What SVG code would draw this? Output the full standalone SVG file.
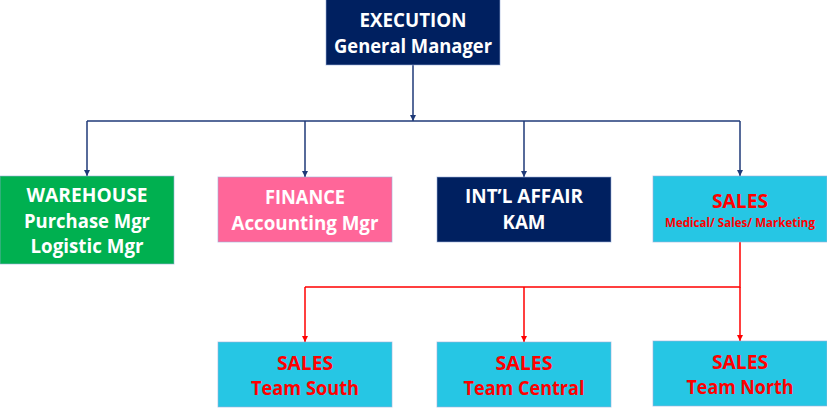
<svg xmlns="http://www.w3.org/2000/svg" width="827" height="414" viewBox="0 0 827 414">
<style>
.box{stroke:#9DB3DA;stroke-width:1;stroke-opacity:0.6}
.navy{fill:#002060}
.green{fill:#00B050}
.pink{fill:#FF6699}
.cyan{fill:#26C6E4}
text{font-family:"Open Sans","Liberation Sans",sans-serif;font-weight:bold;text-anchor:middle}
.w{fill:#FFFFFF;font-size:19px}
.r{fill:#FF0000;font-size:19px}
.rs{fill:#FF0000;font-size:12px}
.cb{fill:none;stroke:#1F3A78;stroke-width:1.5}
.cr{fill:none;stroke:#FF0000;stroke-width:1.5}
</style>
<defs>
<marker id="ab" viewBox="0 0 6 6" refX="6" refY="3" markerWidth="4" markerHeight="4" orient="auto" markerUnits="strokeWidth">
<path d="M0,0 L6,3 L0,6 Z" fill="#1F3A78"/>
</marker>
<marker id="ar" viewBox="0 0 6 6" refX="6" refY="3" markerWidth="4" markerHeight="4" orient="auto" markerUnits="strokeWidth">
<path d="M0,0 L6,3 L0,6 Z" fill="#FF0000"/>
</marker>
</defs>
<rect width="827" height="414" fill="#FFFFFF"/>
<g id="connectors">
<path class="cb" d="M413,65 V121" marker-end="url(#ab)"/>
<path class="cb" d="M87,121 H740"/>
<path class="cb" d="M87,121 V176" marker-end="url(#ab)"/>
<path class="cb" d="M305,121 V177" marker-end="url(#ab)"/>
<path class="cb" d="M524,121 V177" marker-end="url(#ab)"/>
<path class="cb" d="M740,121 V176" marker-end="url(#ab)"/>
<path class="cr" d="M740,242 V287 H305"/>
<path class="cr" d="M305,287 V342" marker-end="url(#ar)"/>
<path class="cr" d="M524,287 V342" marker-end="url(#ar)"/>
<path class="cr" d="M740,287 V341" marker-end="url(#ar)"/>
</g>
<g id="execution">
<rect class="box navy" x="326" y="-1" width="174" height="66"/>
<text class="w" x="413" y="27" textLength="107" lengthAdjust="spacingAndGlyphs">EXECUTION</text>
<text class="w" x="413" y="53" textLength="158" lengthAdjust="spacingAndGlyphs">General Manager</text>
</g>
<g id="warehouse">
<rect class="box green" x="0" y="176" width="174" height="88"/>
<text class="w" x="87" y="202" textLength="121" lengthAdjust="spacingAndGlyphs">WAREHOUSE</text>
<text class="w" x="87" y="228" textLength="126" lengthAdjust="spacingAndGlyphs">Purchase Mgr</text>
<text class="w" x="87" y="253" textLength="113" lengthAdjust="spacingAndGlyphs">Logistic Mgr</text>
</g>
<g id="finance">
<rect class="box pink" x="218" y="177" width="174" height="65"/>
<text class="w" x="305" y="204" textLength="80" lengthAdjust="spacingAndGlyphs">FINANCE</text>
<text class="w" x="305" y="230" textLength="147" lengthAdjust="spacingAndGlyphs">Accounting Mgr</text>
</g>
<g id="intl">
<rect class="box navy" x="437" y="177" width="174" height="65"/>
<text class="w" x="524" y="203" textLength="118" lengthAdjust="spacingAndGlyphs">INT’L AFFAIR</text>
<text class="w" x="524" y="229" textLength="43" lengthAdjust="spacingAndGlyphs">KAM</text>
</g>
<g id="sales">
<rect class="box cyan" x="653" y="176" width="174" height="66"/>
<text class="r" x="740" y="208" font-size="21" textLength="56" lengthAdjust="spacingAndGlyphs">SALES</text>
<text class="rs" x="740" y="227" textLength="150" lengthAdjust="spacingAndGlyphs">Medical/ Sales/ Marketing</text>
</g>
<g id="sales-south">
<rect class="box cyan" x="218" y="342" width="174" height="65"/>
<text class="r" x="305" y="370" textLength="56" lengthAdjust="spacingAndGlyphs">SALES</text>
<text class="r" x="305" y="395" textLength="108" lengthAdjust="spacingAndGlyphs">Team South</text>
</g>
<g id="sales-central">
<rect class="box cyan" x="437" y="342" width="174" height="65"/>
<text class="r" x="524" y="370" textLength="57" lengthAdjust="spacingAndGlyphs">SALES</text>
<text class="r" x="524" y="395" textLength="121" lengthAdjust="spacingAndGlyphs">Team Central</text>
</g>
<g id="sales-north">
<rect class="box cyan" x="653" y="341" width="174" height="65"/>
<text class="r" x="740" y="369" textLength="56" lengthAdjust="spacingAndGlyphs">SALES</text>
<text class="r" x="740" y="394" textLength="107" lengthAdjust="spacingAndGlyphs">Team North</text>
</g>
</svg>
